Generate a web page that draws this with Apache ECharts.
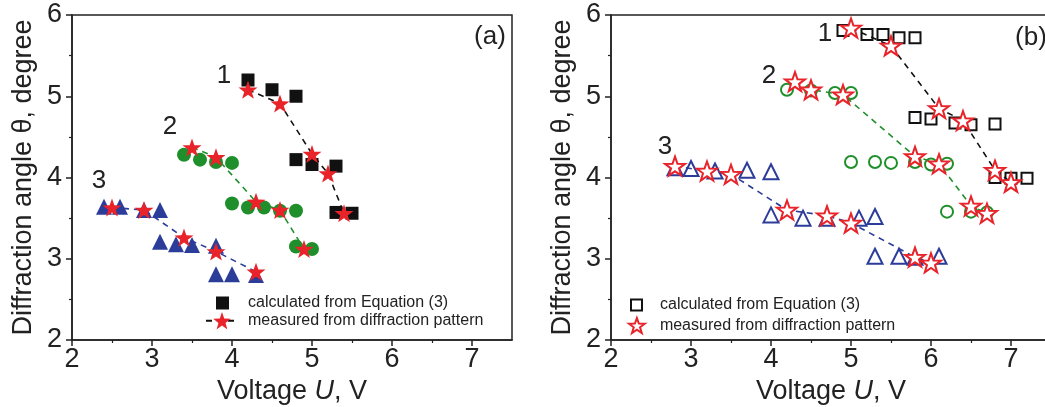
<!DOCTYPE html>
<html>
<head>
<meta charset="utf-8">
<script src="https://cdn.jsdelivr.net/npm/echarts@6/dist/echarts.min.js"></script>
<style>
html,body{margin:0;padding:0;background:#fff;}
#chart{width:1045px;height:407px;}
</style>
</head>
<body>
<div id="chart"></div>
<script>
// ---------- DATA ----------
// Panel (a)
const calcA1_x = [4.2, 4.5, 4.8, 4.8, 5.0, 5.3, 5.3, 5.5];
const calcA1_y = [5.20, 5.08, 5.00, 4.22, 4.16, 4.14, 3.57, 3.56];
const calcA2_x = [3.4, 3.6, 3.8, 4.0, 4.0, 4.2, 4.4, 4.6, 4.8, 4.8, 5.0];
const calcA2_y = [4.28, 4.22, 4.19, 4.18, 3.68, 3.63, 3.63, 3.59, 3.59, 3.15, 3.12];
const calcA3_x = [2.4, 2.6, 2.9, 3.1, 3.1, 3.3, 3.5, 3.8, 3.8, 4.0, 4.3];
const calcA3_y = [3.64, 3.64, 3.60, 3.60, 3.21, 3.18, 3.17, 3.16, 2.81, 2.81, 2.80];
const measA1_x = [4.2, 4.6, 5.0, 5.2, 5.4];
const measA1_y = [5.08, 4.91, 4.29, 4.05, 3.56];
const measA2_x = [3.5, 3.8, 4.3, 4.6, 4.9];
const measA2_y = [4.37, 4.25, 3.70, 3.60, 3.12];
const measA3_x = [2.5, 2.9, 3.4, 3.8, 4.3];
const measA3_y = [3.63, 3.60, 3.26, 3.09, 2.84];
// Panel (b)
const calcB1_x = [4.9, 5.2, 5.4, 5.6, 5.8, 5.8, 6.0, 6.3, 6.5, 6.8, 6.8, 7.0, 7.2];
const calcB1_y = [5.81, 5.76, 5.76, 5.72, 5.72, 4.74, 4.72, 4.67, 4.65, 4.66, 4.00, 3.99, 3.99];
const calcB2_x = [4.2, 4.5, 4.8, 5.0, 5.0, 5.3, 5.5, 5.8, 6.0, 6.2, 6.2, 6.5, 6.7];
const calcB2_y = [5.08, 5.07, 5.04, 5.04, 4.19, 4.19, 4.18, 4.19, 4.16, 4.17, 3.58, 3.58, 3.57];
const calcB3_x = [2.8, 3.0, 3.3, 3.7, 4.0, 4.0, 4.4, 4.7, 5.1, 5.3, 5.3, 5.6, 5.8, 6.1];
const calcB3_y = [4.12, 4.11, 4.08, 4.09, 4.07, 3.54, 3.50, 3.50, 3.50, 3.52, 3.03, 3.03, 3.02, 3.03];
const measB1_x = [5.0, 5.5, 6.1, 6.4, 6.8, 7.0];
const measB1_y = [5.84, 5.62, 4.85, 4.70, 4.09, 3.94];
const measB2_x = [4.3, 4.5, 4.9, 5.8, 6.1, 6.5, 6.7];
const measB2_y = [5.18, 5.08, 5.02, 4.26, 4.17, 3.65, 3.56];
const measB3_x = [2.8, 3.2, 3.5, 4.2, 4.7, 5.0, 5.8, 6.0];
const measB3_y = [4.14, 4.08, 4.04, 3.60, 3.53, 3.44, 3.02, 2.95];

const xTicks = [2, 3, 4, 5, 6, 7];
const legendCalc = 'calculated from Equation (3)';
const legendMeas = 'measured from diffraction pattern';
const yTitle = 'Diffraction angle θ, degree';

// ---------- STYLE ----------
const FONT = '"Liberation Sans", Arial, sans-serif';
const BLACK = '#111111', GREEN = '#1f8f2c', BLUE = '#2b3c99', RED = '#e8232a';
const STAR = 'path://M50,0L61.76,33.82L97.55,34.55L69.02,56.18L79.39,90.45L50,70L20.61,90.45L30.98,56.18L2.45,34.55L38.24,33.82Z';
const SQUARE = 'path://M0,0L10,0L10,10L0,10Z';

const zip = (xs, ys) => xs.map((x, i) => [x, ys[i]]);
const nameMap = {
  a_calc: legendCalc, a_meas: legendMeas, b_calc: legendCalc, b_meas: legendMeas
};

function xAxisCfg(gi) {
  return {
    gridIndex: gi, type: 'value', min: 2, max: 7.5, interval: 1,
    name: '{n|Voltage }{i|U}{n|, V}', nameLocation: 'middle', nameGap: 30,
    nameTextStyle: { rich: {
      n: { fontSize: 27, fontFamily: FONT, color: '#222' },
      i: { fontSize: 27, fontFamily: FONT, color: '#222', fontStyle: 'italic' } } },
    axisLine: { onZero: false, lineStyle: { color: '#222', width: 1.5 } },
    axisTick: { show: true, inside: false, length: 6, customValues: xTicks, lineStyle: { color: '#222', width: 1.5 } },
    minorTick: { show: true, splitNumber: 2, length: 3, lineStyle: { color: '#222', width: 1.2 } },
    axisLabel: { customValues: xTicks, margin: 6, fontSize: 27, fontFamily: FONT, color: '#222',
      formatter: v => (Number.isInteger(v) ? String(v) : '') },
    splitLine: { show: false }
  };
}
function yAxisCfg(gi) {
  return {
    gridIndex: gi, type: 'value', min: 2, max: 6, interval: 1,
    name: yTitle, nameLocation: 'middle', nameGap: 35, nameRotate: 90,
    nameTextStyle: { fontSize: 27, fontFamily: FONT, color: '#222' },
    axisLine: { onZero: false, lineStyle: { color: '#222', width: 1.5 } },
    axisTick: { show: true, inside: false, length: 6, lineStyle: { color: '#222', width: 1.5 } },
    minorTick: { show: true, splitNumber: 2, length: 3, lineStyle: { color: '#222', width: 1.2 } },
    axisLabel: { margin: 10, fontSize: 27, fontFamily: FONT, color: '#222' },
    splitLine: { show: false }
  };
}

function scatter(name, gi, data, symbol, size, itemStyle) {
  return { name, type: 'scatter', xAxisIndex: gi, yAxisIndex: gi, data, symbol, symbolSize: size,
    itemStyle: Object.assign({ opacity: 1 }, itemStyle), z: 3, silent: true };
}
function measLine(name, gi, data, lineColor, itemStyle, size) {
  return { name, type: 'line', xAxisIndex: gi, yAxisIndex: gi, data, symbol: STAR, symbolSize: size,
    symbolKeepAspect: true, showSymbol: true,
    lineStyle: { color: lineColor, type: [6, 5], width: 1.6 },
    itemStyle: Object.assign({ opacity: 1 }, itemStyle), z: 4, silent: true };
}

const filledRed = { color: RED };
const hollowRed = { color: '#fff', borderColor: RED, borderWidth: 2 };

const series = [
  // panel (a)
  scatter('a_calc', 0, zip(calcA1_x, calcA1_y), 'rect', 13, { color: BLACK }),
  scatter('a_c2', 0, zip(calcA2_x, calcA2_y), 'circle', 14, { color: GREEN }),
  scatter('a_c3', 0, zip(calcA3_x, calcA3_y), 'triangle', 16, { color: BLUE }),
  measLine('a_meas', 0, zip(measA1_x, measA1_y), BLACK, filledRed, 19),
  measLine('a_m2', 0, zip(measA2_x, measA2_y), GREEN, filledRed, 19),
  measLine('a_m3', 0, zip(measA3_x, measA3_y), BLUE, filledRed, 19),
  // panel (b)
  scatter('b_calc', 1, zip(calcB1_x, calcB1_y), 'rect', 11, { color: '#fff', borderColor: BLACK, borderWidth: 2 }),
  scatter('b_c2', 1, zip(calcB2_x, calcB2_y), 'circle', 12, { color: '#fff', borderColor: GREEN, borderWidth: 2 }),
  scatter('b_c3', 1, zip(calcB3_x, calcB3_y), 'triangle', 15, { color: '#fff', borderColor: BLUE, borderWidth: 2 }),
  measLine('b_meas', 1, zip(measB1_x, measB1_y), BLACK, hollowRed, 20),
  measLine('b_m2', 1, zip(measB2_x, measB2_y), GREEN, hollowRed, 20),
  measLine('b_m3', 1, zip(measB3_x, measB3_y), BLUE, hollowRed, 20)
];

function legendCfg(name, left, top, w, h, pad, icon) {
  const item = { name };
  if (icon) item.icon = icon;
  return {
    data: [item], left, top, padding: 0, itemWidth: w, itemHeight: h, selectedMode: false,
    symbolKeepAspect: true,
    formatter: n => nameMap[n],
    textStyle: { fontSize: 16, fontFamily: FONT, color: '#222', padding: [0, 0, 0, pad] }
  };
}

const option = {
  backgroundColor: '#fff',
  animation: false,
  grid: [
    { left: 72, top: 15, width: 440, height: 325, show: true, borderColor: '#222', borderWidth: 1.5, outerBoundsMode: 'none', containLabel: false },
    { left: 611, top: 15, width: 440, height: 325, show: true, borderColor: '#222', borderWidth: 1.5, outerBoundsMode: 'none', containLabel: false }
  ],
  xAxis: [xAxisCfg(0), xAxisCfg(1)],
  yAxis: [yAxisCfg(0), yAxisCfg(1)],
  legend: [
    legendCfg('a_calc', 216, 295, 13, 13, 14, SQUARE),
    legendCfg('a_meas', 205, 312, 32, 22, 5, null),
    legendCfg('b_calc', 630, 297, 11, 11, 13, SQUARE),
    legendCfg('b_meas', 628, 317, 16, 15, 10, STAR)
  ],
  graphic: [
    { type: 'text', x: 490, y: 37, style: { text: '(a)', fontSize: 26, fontFamily: FONT, fill: '#222', align: 'center', verticalAlign: 'middle' } },
    { type: 'text', x: 1031, y: 38, style: { text: '(b)', fontSize: 26, fontFamily: FONT, fill: '#222', align: 'center', verticalAlign: 'middle' } },
    { type: 'text', x: 224, y: 76, style: { text: '1', fontSize: 26, fontFamily: FONT, fill: '#222', align: 'center', verticalAlign: 'middle' } },
    { type: 'text', x: 170, y: 127, style: { text: '2', fontSize: 26, fontFamily: FONT, fill: '#222', align: 'center', verticalAlign: 'middle' } },
    { type: 'text', x: 99, y: 181, style: { text: '3', fontSize: 26, fontFamily: FONT, fill: '#222', align: 'center', verticalAlign: 'middle' } },
    { type: 'text', x: 825, y: 34, style: { text: '1', fontSize: 26, fontFamily: FONT, fill: '#222', align: 'center', verticalAlign: 'middle' } },
    { type: 'text', x: 769, y: 76, style: { text: '2', fontSize: 26, fontFamily: FONT, fill: '#222', align: 'center', verticalAlign: 'middle' } },
    { type: 'text', x: 665, y: 147, style: { text: '3', fontSize: 26, fontFamily: FONT, fill: '#222', align: 'center', verticalAlign: 'middle' } }
  ],
  series
};

const chart = echarts.init(document.getElementById('chart'), null, { renderer: 'canvas' });
chart.setOption(option);
</script>
</body>
</html>
